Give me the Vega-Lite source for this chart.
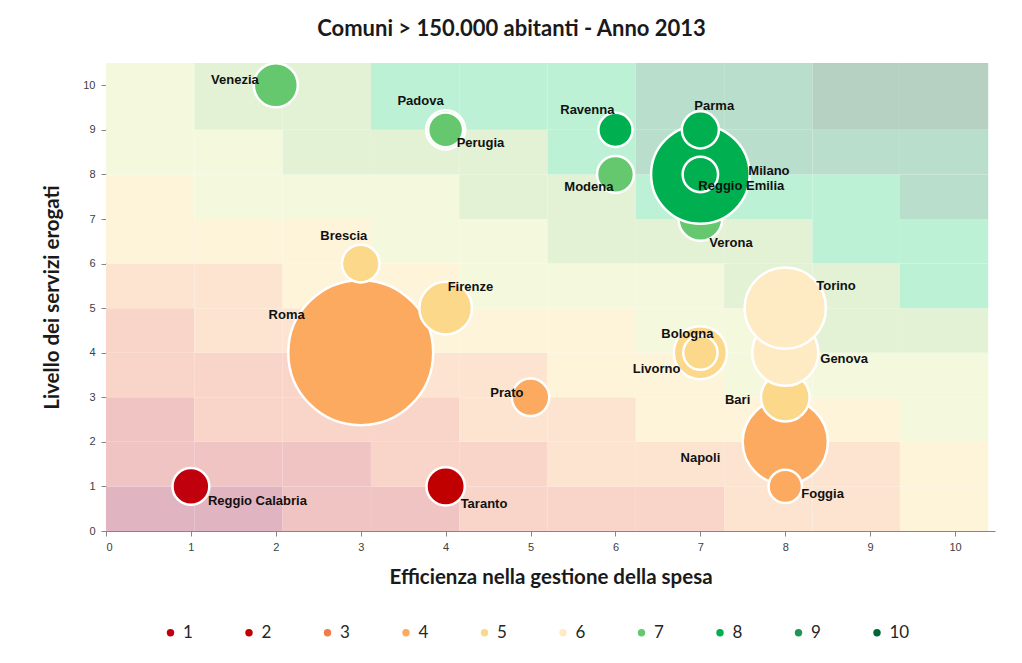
{
  "$schema": "https://vega.github.io/schema/vega-lite/v6.json",
  "width": 889,
  "height": 468,
  "autosize": {"type": "none"},
  "padding": {"left": 106, "top": 63, "right": 27, "bottom": 132},
  "background": "white",
  "title": {"text": "Comuni > 150.000 abitanti - Anno 2013", "font": "Lato", "fontSize": 22, "fontWeight": "bold", "color": "#1a1a1a", "anchor": "middle", "dx": -39, "offset": 17},
  "datasets": {
    "citta": [
      {"z": 1, "citta": "Reggio Calabria", "x": 1, "y": 1, "abitanti": 185000, "classe": "1"},
      {"z": 2, "citta": "Taranto", "x": 4, "y": 1, "abitanti": 200000, "classe": "2"},
      {"z": 3, "citta": "Roma", "x": 3, "y": 4, "abitanti": 2863000, "classe": "4"},
      {"z": 4, "citta": "Napoli", "x": 8, "y": 2, "abitanti": 989000, "classe": "4"},
      {"z": 5, "citta": "Prato", "x": 5, "y": 3, "abitanti": 191000, "classe": "4"},
      {"z": 6, "citta": "Foggia", "x": 8, "y": 1, "abitanti": 152000, "classe": "4"},
      {"z": 7, "citta": "Bologna", "x": 7, "y": 4, "abitanti": 384000, "classe": "5"},
      {"z": 8, "citta": "Livorno", "x": 7, "y": 4, "abitanti": 160000, "classe": "5"},
      {"z": 9, "citta": "Firenze", "x": 4, "y": 5, "abitanti": 377000, "classe": "5"},
      {"z": 10, "citta": "Brescia", "x": 3, "y": 6, "abitanti": 193000, "classe": "5"},
      {"z": 11, "citta": "Bari", "x": 8, "y": 3, "abitanti": 322000, "classe": "5"},
      {"z": 12, "citta": "Genova", "x": 8, "y": 4, "abitanti": 596000, "classe": "6"},
      {"z": 13, "citta": "Torino", "x": 8, "y": 5, "abitanti": 902000, "classe": "6"},
      {"z": 14, "citta": "Verona", "x": 7, "y": 7, "abitanti": 260000, "classe": "7"},
      {"z": 15, "citta": "Venezia", "x": 2, "y": 10, "abitanti": 264000, "classe": "7"},
      {"z": 16, "citta": "Padova", "x": 4, "y": 9, "abitanti": 209000, "classe": "7"},
      {"z": 17, "citta": "Perugia", "x": 4, "y": 9, "abitanti": 166000, "classe": "7"},
      {"z": 18, "citta": "Modena", "x": 6, "y": 8, "abitanti": 185000, "classe": "7"},
      {"z": 19, "citta": "Milano", "x": 7, "y": 8, "abitanti": 1324000, "classe": "8"},
      {"z": 20, "citta": "Parma", "x": 7, "y": 9, "abitanti": 187000, "classe": "8"},
      {"z": 21, "citta": "Reggio Emilia", "x": 7, "y": 8, "abitanti": 171000, "classe": "8"},
      {"z": 22, "citta": "Ravenna", "x": 6, "y": 9, "abitanti": 159000, "classe": "8"}
    ],
    "celle": [
      {"x": 0, "x2": 1.04, "y": 0, "y2": 1, "lv": 1},
      {"x": 1.04, "x2": 2.08, "y": 0, "y2": 1, "lv": 1},
      {"x": 2.08, "x2": 3.12, "y": 0, "y2": 1, "lv": 2},
      {"x": 3.12, "x2": 4.16, "y": 0, "y2": 1, "lv": 2},
      {"x": 4.16, "x2": 5.2, "y": 0, "y2": 1, "lv": 3},
      {"x": 5.2, "x2": 6.24, "y": 0, "y2": 1, "lv": 3},
      {"x": 6.24, "x2": 7.28, "y": 0, "y2": 1, "lv": 3},
      {"x": 7.28, "x2": 8.32, "y": 0, "y2": 1, "lv": 4},
      {"x": 8.32, "x2": 9.35, "y": 0, "y2": 1, "lv": 4},
      {"x": 9.35, "x2": 10.39, "y": 0, "y2": 1, "lv": 5},
      {"x": 0, "x2": 1.04, "y": 1, "y2": 2, "lv": 2},
      {"x": 1.04, "x2": 2.08, "y": 1, "y2": 2, "lv": 2},
      {"x": 2.08, "x2": 3.12, "y": 1, "y2": 2, "lv": 2},
      {"x": 3.12, "x2": 4.16, "y": 1, "y2": 2, "lv": 3},
      {"x": 4.16, "x2": 5.2, "y": 1, "y2": 2, "lv": 3},
      {"x": 5.2, "x2": 6.24, "y": 1, "y2": 2, "lv": 4},
      {"x": 6.24, "x2": 7.28, "y": 1, "y2": 2, "lv": 4},
      {"x": 7.28, "x2": 8.32, "y": 1, "y2": 2, "lv": 4},
      {"x": 8.32, "x2": 9.35, "y": 1, "y2": 2, "lv": 4},
      {"x": 9.35, "x2": 10.39, "y": 1, "y2": 2, "lv": 5},
      {"x": 0, "x2": 1.04, "y": 2, "y2": 3, "lv": 2},
      {"x": 1.04, "x2": 2.08, "y": 2, "y2": 3, "lv": 3},
      {"x": 2.08, "x2": 3.12, "y": 2, "y2": 3, "lv": 3},
      {"x": 3.12, "x2": 4.16, "y": 2, "y2": 3, "lv": 3},
      {"x": 4.16, "x2": 5.2, "y": 2, "y2": 3, "lv": 4},
      {"x": 5.2, "x2": 6.24, "y": 2, "y2": 3, "lv": 4},
      {"x": 6.24, "x2": 7.28, "y": 2, "y2": 3, "lv": 5},
      {"x": 7.28, "x2": 8.32, "y": 2, "y2": 3, "lv": 5},
      {"x": 8.32, "x2": 9.35, "y": 2, "y2": 3, "lv": 5},
      {"x": 9.35, "x2": 10.39, "y": 2, "y2": 3, "lv": 6},
      {"x": 0, "x2": 1.04, "y": 3, "y2": 4, "lv": 3},
      {"x": 1.04, "x2": 2.08, "y": 3, "y2": 4, "lv": 3},
      {"x": 2.08, "x2": 3.12, "y": 3, "y2": 4, "lv": 3},
      {"x": 3.12, "x2": 4.16, "y": 3, "y2": 4, "lv": 4},
      {"x": 4.16, "x2": 5.2, "y": 3, "y2": 4, "lv": 4},
      {"x": 5.2, "x2": 6.24, "y": 3, "y2": 4, "lv": 5},
      {"x": 6.24, "x2": 7.28, "y": 3, "y2": 4, "lv": 5},
      {"x": 7.28, "x2": 8.32, "y": 3, "y2": 4, "lv": 6},
      {"x": 8.32, "x2": 9.35, "y": 3, "y2": 4, "lv": 6},
      {"x": 9.35, "x2": 10.39, "y": 3, "y2": 4, "lv": 6},
      {"x": 0, "x2": 1.04, "y": 4, "y2": 5, "lv": 3},
      {"x": 1.04, "x2": 2.08, "y": 4, "y2": 5, "lv": 4},
      {"x": 2.08, "x2": 3.12, "y": 4, "y2": 5, "lv": 4},
      {"x": 3.12, "x2": 4.16, "y": 4, "y2": 5, "lv": 5},
      {"x": 4.16, "x2": 5.2, "y": 4, "y2": 5, "lv": 5},
      {"x": 5.2, "x2": 6.24, "y": 4, "y2": 5, "lv": 5},
      {"x": 6.24, "x2": 7.28, "y": 4, "y2": 5, "lv": 6},
      {"x": 7.28, "x2": 8.32, "y": 4, "y2": 5, "lv": 6},
      {"x": 8.32, "x2": 9.35, "y": 4, "y2": 5, "lv": 7},
      {"x": 9.35, "x2": 10.39, "y": 4, "y2": 5, "lv": 7},
      {"x": 0, "x2": 1.04, "y": 5, "y2": 6, "lv": 4},
      {"x": 1.04, "x2": 2.08, "y": 5, "y2": 6, "lv": 4},
      {"x": 2.08, "x2": 3.12, "y": 5, "y2": 6, "lv": 5},
      {"x": 3.12, "x2": 4.16, "y": 5, "y2": 6, "lv": 5},
      {"x": 4.16, "x2": 5.2, "y": 5, "y2": 6, "lv": 6},
      {"x": 5.2, "x2": 6.24, "y": 5, "y2": 6, "lv": 6},
      {"x": 6.24, "x2": 7.28, "y": 5, "y2": 6, "lv": 6},
      {"x": 7.28, "x2": 8.32, "y": 5, "y2": 6, "lv": 7},
      {"x": 8.32, "x2": 9.35, "y": 5, "y2": 6, "lv": 7},
      {"x": 9.35, "x2": 10.39, "y": 5, "y2": 6, "lv": 8},
      {"x": 0, "x2": 1.04, "y": 6, "y2": 7, "lv": 5},
      {"x": 1.04, "x2": 2.08, "y": 6, "y2": 7, "lv": 5},
      {"x": 2.08, "x2": 3.12, "y": 6, "y2": 7, "lv": 5},
      {"x": 3.12, "x2": 4.16, "y": 6, "y2": 7, "lv": 6},
      {"x": 4.16, "x2": 5.2, "y": 6, "y2": 7, "lv": 6},
      {"x": 5.2, "x2": 6.24, "y": 6, "y2": 7, "lv": 7},
      {"x": 6.24, "x2": 7.28, "y": 6, "y2": 7, "lv": 7},
      {"x": 7.28, "x2": 8.32, "y": 6, "y2": 7, "lv": 7},
      {"x": 8.32, "x2": 9.35, "y": 6, "y2": 7, "lv": 8},
      {"x": 9.35, "x2": 10.39, "y": 6, "y2": 7, "lv": 8},
      {"x": 0, "x2": 1.04, "y": 7, "y2": 8, "lv": 5},
      {"x": 1.04, "x2": 2.08, "y": 7, "y2": 8, "lv": 6},
      {"x": 2.08, "x2": 3.12, "y": 7, "y2": 8, "lv": 6},
      {"x": 3.12, "x2": 4.16, "y": 7, "y2": 8, "lv": 6},
      {"x": 4.16, "x2": 5.2, "y": 7, "y2": 8, "lv": 7},
      {"x": 5.2, "x2": 6.24, "y": 7, "y2": 8, "lv": 7},
      {"x": 6.24, "x2": 7.28, "y": 7, "y2": 8, "lv": 8},
      {"x": 7.28, "x2": 8.32, "y": 7, "y2": 8, "lv": 8},
      {"x": 8.32, "x2": 9.35, "y": 7, "y2": 8, "lv": 8},
      {"x": 9.35, "x2": 10.39, "y": 7, "y2": 8, "lv": 9},
      {"x": 0, "x2": 1.04, "y": 8, "y2": 9, "lv": 6},
      {"x": 1.04, "x2": 2.08, "y": 8, "y2": 9, "lv": 6},
      {"x": 2.08, "x2": 3.12, "y": 8, "y2": 9, "lv": 7},
      {"x": 3.12, "x2": 4.16, "y": 8, "y2": 9, "lv": 7},
      {"x": 4.16, "x2": 5.2, "y": 8, "y2": 9, "lv": 7},
      {"x": 5.2, "x2": 6.24, "y": 8, "y2": 9, "lv": 8},
      {"x": 6.24, "x2": 7.28, "y": 8, "y2": 9, "lv": 9},
      {"x": 7.28, "x2": 8.32, "y": 8, "y2": 9, "lv": 9},
      {"x": 8.32, "x2": 9.35, "y": 8, "y2": 9, "lv": 9},
      {"x": 9.35, "x2": 10.39, "y": 8, "y2": 9, "lv": 9},
      {"x": 0, "x2": 1.04, "y": 9, "y2": 10.5, "lv": 6},
      {"x": 1.04, "x2": 2.08, "y": 9, "y2": 10.5, "lv": 7},
      {"x": 2.08, "x2": 3.12, "y": 9, "y2": 10.5, "lv": 7},
      {"x": 3.12, "x2": 4.16, "y": 9, "y2": 10.5, "lv": 8},
      {"x": 4.16, "x2": 5.2, "y": 9, "y2": 10.5, "lv": 8},
      {"x": 5.2, "x2": 6.24, "y": 9, "y2": 10.5, "lv": 8},
      {"x": 6.24, "x2": 7.28, "y": 9, "y2": 10.5, "lv": 9},
      {"x": 7.28, "x2": 8.32, "y": 9, "y2": 10.5, "lv": 9},
      {"x": 8.32, "x2": 9.35, "y": 9, "y2": 10.5, "lv": 10},
      {"x": 9.35, "x2": 10.39, "y": 9, "y2": 10.5, "lv": 10}
    ]
  },
  "encoding": {
    "x": {"field": "x", "type": "quantitative", "scale": {"domain": [0, 10.47], "nice": false, "zero": false},
      "axis": {"values": [0, 1, 2, 3, 4, 5, 6, 7, 8, 9, 10], "title": "Efficienza nella gestione della spesa", "grid": false, "domainColor": "#868686", "tickColor": "#868686", "tickSize": 5, "labelColor": "#404040", "labelFont": "Liberation Sans", "labelFontSize": 11, "labelPadding": 5, "titleFont": "Lato", "titleFontSize": 20.5, "titleFontWeight": "bold", "titleColor": "#1a1a1a", "titlePadding": 15}},
    "y": {"field": "y", "type": "quantitative", "scale": {"domain": [0, 10.5], "nice": false, "zero": false},
      "axis": {"values": [0, 1, 2, 3, 4, 5, 6, 7, 8, 9, 10], "title": "Livello dei servizi erogati", "grid": false, "domainColor": "#868686", "tickColor": "#868686", "tickSize": 5, "labelColor": "#404040", "labelFont": "Liberation Sans", "labelFontSize": 11, "labelPadding": 6, "titleFont": "Lato", "titleFontSize": 20.5, "titleFontWeight": "bold", "titleColor": "#1a1a1a", "titlePadding": 20}}
  },
  "layer": [
    {
      "data": {"name": "celle"},
      "mark": {"type": "rect", "strokeWidth": 0},
      "encoding": {
        "x2": {"field": "x2"},
        "y2": {"field": "y2"},
        "color": {"field": "lv", "type": "ordinal", "legend": null,
          "scale": {"domain": [1, 2, 3, 4, 5, 6, 7, 8, 9, 10], "range": ["#e0b4c0", "#f1c4c4", "#f9d4c9", "#fde4d0", "#fef4da", "#f4f9de", "#e3f2d4", "#bdf1d5", "#b9dfcc", "#b6d0c2"]}}
      }
    },
    {
      "data": {"name": "citta"},
      "mark": {"type": "circle", "opacity": 1, "stroke": "white", "strokeWidth": 2.5},
      "encoding": {
        "size": {"field": "abitanti", "type": "quantitative", "legend": null, "scale": {"type": "linear", "domain": [0, 2863000], "range": [0, 21000], "zero": true}},
        "order": {"field": "z", "type": "quantitative"},
        "color": {"field": "classe", "type": "nominal",
          "scale": {"domain": ["1", "2", "3", "4", "5", "6", "7", "8", "9", "10"], "range": ["#c0000c", "#c00000", "#f07c48", "#fbaa60", "#fcd88a", "#feebc4", "#66c86e", "#00b050", "#1e9850", "#006837"]},
          "legend": {"title": null, "orient": "none", "legendX": 56, "legendY": 561, "direction": "horizontal", "columns": 10, "gridAlign": "all", "symbolType": "circle", "symbolSize": 55, "symbolStrokeWidth": 0, "labelFont": "Lato", "labelFontSize": 17, "labelColor": "#262626", "labelOffset": 4, "columnPadding": 37.5, "padding": 0}}
      }
    },
    {"data": {"name": "citta"}, "transform": [{"filter": {"field": "citta", "equal": "Venezia"}}], "mark": {"type": "text", "align": "right", "dx": -17, "dy": -5}, "encoding": {"text": {"field": "citta"}}},
    {"data": {"name": "citta"}, "transform": [{"filter": {"field": "citta", "equal": "Padova"}}], "mark": {"type": "text", "align": "right", "dx": -2, "dy": -29}, "encoding": {"text": {"field": "citta"}}},
    {"data": {"name": "citta"}, "transform": [{"filter": {"field": "citta", "equal": "Perugia"}}], "mark": {"type": "text", "align": "left", "dx": 11, "dy": 13}, "encoding": {"text": {"field": "citta"}}},
    {"data": {"name": "citta"}, "transform": [{"filter": {"field": "citta", "equal": "Ravenna"}}], "mark": {"type": "text", "align": "right", "dx": -1, "dy": -20}, "encoding": {"text": {"field": "citta"}}},
    {"data": {"name": "citta"}, "transform": [{"filter": {"field": "citta", "equal": "Parma"}}], "mark": {"type": "text", "align": "left", "dx": -6, "dy": -24}, "encoding": {"text": {"field": "citta"}}},
    {"data": {"name": "citta"}, "transform": [{"filter": {"field": "citta", "equal": "Modena"}}], "mark": {"type": "text", "align": "right", "dx": -2, "dy": 13}, "encoding": {"text": {"field": "citta"}}},
    {"data": {"name": "citta"}, "transform": [{"filter": {"field": "citta", "equal": "Milano"}}], "mark": {"type": "text", "align": "left", "dx": 48, "dy": -3}, "encoding": {"text": {"field": "citta"}}},
    {"data": {"name": "citta"}, "transform": [{"filter": {"field": "citta", "equal": "Reggio Emilia"}}], "mark": {"type": "text", "align": "left", "dx": -2, "dy": 12}, "encoding": {"text": {"field": "citta"}}},
    {"data": {"name": "citta"}, "transform": [{"filter": {"field": "citta", "equal": "Verona"}}], "mark": {"type": "text", "align": "left", "dx": 9, "dy": 24}, "encoding": {"text": {"field": "citta"}}},
    {"data": {"name": "citta"}, "transform": [{"filter": {"field": "citta", "equal": "Brescia"}}], "mark": {"type": "text", "align": "center", "dx": -17, "dy": -28}, "encoding": {"text": {"field": "citta"}}},
    {"data": {"name": "citta"}, "transform": [{"filter": {"field": "citta", "equal": "Firenze"}}], "mark": {"type": "text", "align": "left", "dx": 2, "dy": -21}, "encoding": {"text": {"field": "citta"}}},
    {"data": {"name": "citta"}, "transform": [{"filter": {"field": "citta", "equal": "Roma"}}], "mark": {"type": "text", "align": "right", "dx": -56, "dy": -38}, "encoding": {"text": {"field": "citta"}}},
    {"data": {"name": "citta"}, "transform": [{"filter": {"field": "citta", "equal": "Prato"}}], "mark": {"type": "text", "align": "right", "dx": -7, "dy": -4}, "encoding": {"text": {"field": "citta"}}},
    {"data": {"name": "citta"}, "transform": [{"filter": {"field": "citta", "equal": "Torino"}}], "mark": {"type": "text", "align": "left", "dx": 31, "dy": -22}, "encoding": {"text": {"field": "citta"}}},
    {"data": {"name": "citta"}, "transform": [{"filter": {"field": "citta", "equal": "Genova"}}], "mark": {"type": "text", "align": "left", "dx": 35, "dy": 6}, "encoding": {"text": {"field": "citta"}}},
    {"data": {"name": "citta"}, "transform": [{"filter": {"field": "citta", "equal": "Bologna"}}], "mark": {"type": "text", "align": "right", "dx": 13, "dy": -19}, "encoding": {"text": {"field": "citta"}}},
    {"data": {"name": "citta"}, "transform": [{"filter": {"field": "citta", "equal": "Livorno"}}], "mark": {"type": "text", "align": "right", "dx": -20, "dy": 16}, "encoding": {"text": {"field": "citta"}}},
    {"data": {"name": "citta"}, "transform": [{"filter": {"field": "citta", "equal": "Bari"}}], "mark": {"type": "text", "align": "right", "dx": -35, "dy": 3}, "encoding": {"text": {"field": "citta"}}},
    {"data": {"name": "citta"}, "transform": [{"filter": {"field": "citta", "equal": "Napoli"}}], "mark": {"type": "text", "align": "right", "dx": -65, "dy": 16}, "encoding": {"text": {"field": "citta"}}},
    {"data": {"name": "citta"}, "transform": [{"filter": {"field": "citta", "equal": "Foggia"}}], "mark": {"type": "text", "align": "left", "dx": 16, "dy": 8}, "encoding": {"text": {"field": "citta"}}},
    {"data": {"name": "citta"}, "transform": [{"filter": {"field": "citta", "equal": "Reggio Calabria"}}], "mark": {"type": "text", "align": "left", "dx": 17, "dy": 15}, "encoding": {"text": {"field": "citta"}}},
    {"data": {"name": "citta"}, "transform": [{"filter": {"field": "citta", "equal": "Taranto"}}], "mark": {"type": "text", "align": "left", "dx": 15, "dy": 18}, "encoding": {"text": {"field": "citta"}}}
  ],
  "resolve": {"scale": {"color": "independent"}},
  "config": {
    "view": {"stroke": null},
    "text": {"font": "Liberation Sans", "fontWeight": "bold", "fontSize": 13, "baseline": "middle", "color": "#111111"}
  }
}
